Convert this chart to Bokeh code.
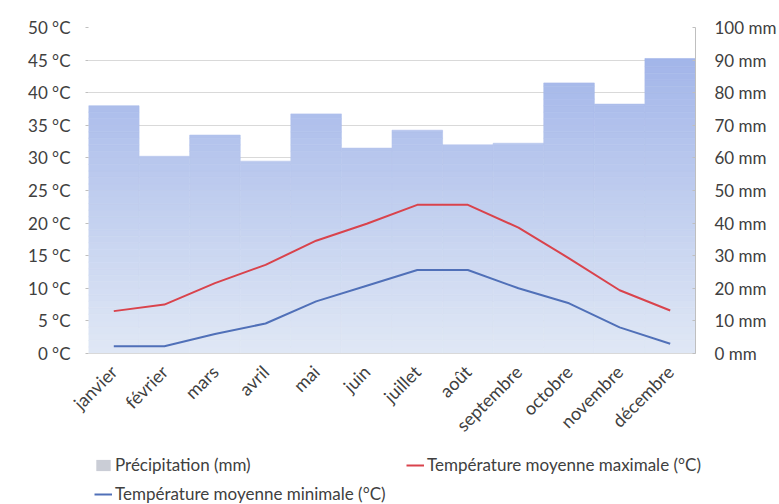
import numpy as np
from bokeh.plotting import figure
from bokeh.layouts import column
from bokeh.models import (FactorRange, Range1d, LinearAxis, SingleIntervalTicker,
                          PrintfTickFormatter, Legend, LegendItem)
from bokeh.embed import file_html
from bokeh.resources import INLINE

months = ["janvier", "février", "mars", "avril", "mai", "juin", "juillet",
          "août", "septembre", "octobre", "novembre", "décembre"]
precip_mm = [76, 60.5, 67, 59, 73.5, 63, 68.5, 64, 64.5, 83, 76.5, 90.5]
tmax_c = [6.5, 7.5, 10.8, 13.6, 17.3, 19.9, 22.8, 22.8, 19.3, 14.6, 9.7, 6.6]
tmin_c = [1.1, 1.1, 3.0, 4.6, 8.0, 10.4, 12.8, 12.8, 10.0, 7.7, 4.0, 1.5]

FONT = "Lato"
TXT = "#404040"
FS = "17px"
RED = "#d9434c"
BLUE = "#5070b8"

p = figure(width=779, height=448, output_backend="svg", toolbar_location=None,
           x_range=FactorRange(*months, range_padding=0), y_range=Range1d(0, 50),
           min_border_left=88, min_border_right=82, min_border_top=27,
           min_border_bottom=95)
p.frame_align = False
p.extra_y_ranges = {"mm": Range1d(0, 100)}
p.outline_line_color = None
p.xgrid.grid_line_color = None
p.ygrid.grid_line_color = "#d9d9d9"
p.ygrid.ticker = SingleIntervalTicker(interval=5)

# precipitation bars with a vertical colour gradient (bands by height)
top_c = np.array([0x9c, 0xb0, 0xe8])
bot_c = np.array([0xe0, 0xe8, 0xf5])
nb = 50
step = 100 / nb
xs, bots, tops, cols = [], [], [], []
for m, v in zip(months, precip_mm):
    for i in range(nb):
        b = i * step
        if b >= v:
            break
        t = min(v, b + step)
        f = (b + step / 2) / 100
        c = bot_c + (top_c - bot_c) * f
        xs.append(m); bots.append(b); tops.append(t)
        cols.append("#%02x%02x%02x" % tuple(int(round(k)) for k in c))
p.vbar(x=xs, bottom=bots, top=tops, width=1.0, fill_color=cols,
       line_color=cols, line_width=0.6, y_range_name="mm")

p.line(months, tmax_c, line_color=RED, line_width=2)
p.line(months, tmin_c, line_color=BLUE, line_width=2)

# axes
yl = p.yaxis[0]
yl.ticker = SingleIntervalTicker(interval=5)
yl.formatter = PrintfTickFormatter(format="%d °C")
yl.axis_line_color = None
yl.major_tick_line_color = "#bfbfbf"
yl.major_tick_out = 3
yl.major_tick_in = 0
yl.minor_tick_line_color = None
yl.major_label_text_font = FONT
yl.major_label_text_font_size = FS
yl.major_label_text_color = TXT
yl.major_label_standoff = 14

yr = LinearAxis(y_range_name="mm", ticker=SingleIntervalTicker(interval=10),
                formatter=PrintfTickFormatter(format="%d mm"))
yr.axis_line_color = "#bfbfbf"
yr.major_tick_line_color = "#bfbfbf"
yr.major_tick_in = 3
yr.major_tick_out = 0
yr.minor_tick_line_color = None
yr.major_label_text_font = FONT
yr.major_label_text_font_size = FS
yr.major_label_text_color = TXT
yr.major_label_standoff = 15
p.add_layout(yr, "right")

xa = p.xaxis[0]
xa.major_label_orientation = np.pi / 4
xa.axis_line_color = "#d9d9d9"
xa.major_tick_line_color = None
xa.major_label_text_font = FONT
xa.major_label_text_font_size = "18px"
xa.major_label_text_color = TXT
xa.major_label_standoff = 9

# legend strip below the chart
q = figure(width=779, height=56, output_backend="svg", toolbar_location=None,
           x_range=Range1d(0, 1), y_range=Range1d(0, 1),
           x_axis_type=None, y_axis_type=None, min_border=0)
q.frame_align = False
q.outline_line_color = None
q.xgrid.visible = False
q.ygrid.visible = False
lb = q.vbar(x=[5], top=[6], bottom=[5], width=0.1, fill_color="#cacdd6", line_color=None)
lr = q.line(x=[5, 6], y=[5, 5], line_color=RED, line_width=2)
lbl = q.line(x=[5, 6], y=[5, 5], line_color=BLUE, line_width=2)

legend = Legend(items=[
    LegendItem(label="Précipitation (mm)", renderers=[lb]),
    LegendItem(label="Température moyenne maximale (°C)", renderers=[lr]),
    LegendItem(label="Température moyenne minimale (°C)", renderers=[lbl]),
], location=(94, 0), orientation="horizontal", ncols=2)
legend.label_text_font = FONT
legend.label_text_font_size = "17px"
legend.label_text_color = TXT
legend.glyph_width = 18
legend.glyph_height = 14
legend.label_standoff = 3
legend.label_width = 283
legend.spacing = 8
legend.padding = 3
legend.margin = 0
legend.border_line_color = None
legend.background_fill_alpha = 0
q.add_layout(legend, "center")

open("out.html", "w").write(file_html(column(p, q, spacing=0), INLINE))
